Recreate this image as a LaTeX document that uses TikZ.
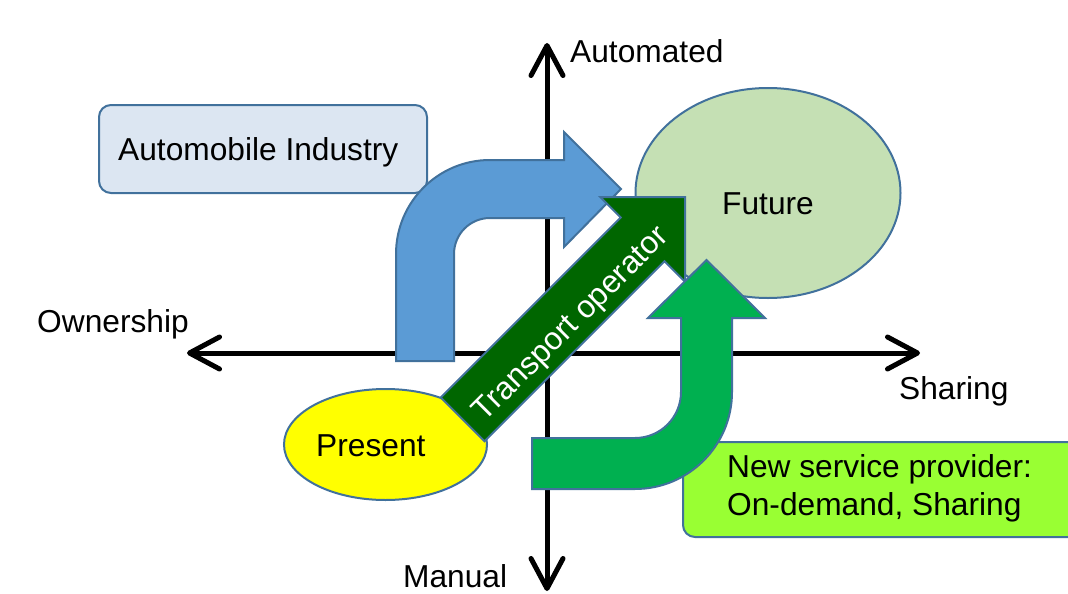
\documentclass[tikz,border=0pt]{standalone}
\usepackage{fontspec}
\setmainfont{Liberation Sans}
\usetikzlibrary{arrows.meta,shapes.geometric}
\definecolor{edge}{HTML}{41719C}
\definecolor{autofill}{HTML}{DCE6F2}
\definecolor{bluearrow}{HTML}{5B9BD5}
\definecolor{futfill}{HTML}{C5E0B4}
\definecolor{presfill}{HTML}{FFFF00}
\definecolor{darkgr}{HTML}{006600}
\definecolor{greenarrow}{HTML}{00B050}
\definecolor{nsfill}{HTML}{99FF33}
\begin{document}
\begin{tikzpicture}[x=1pt,y=-1pt,
  font=\fontsize{31.7}{38}\selectfont,
  axis/.style={line width=5pt,
    {Straight Barb[length=30pt,width=32pt,round]}-{Straight Barb[length=30pt,width=32pt,round]}},
  txt/.style={inner sep=0pt, anchor=base west},
  shapeedge/.style={draw=edge, line width=2pt, line join=miter},
  roundbox/.style={shapeedge, rounded corners=12pt, rectangle, inner sep=0pt},
  oval/.style={shapeedge, ellipse, inner sep=0pt}]
\clip (0,0) rectangle (1068,594);
\useasboundingbox (0,0) rectangle (1068,594);
\fill[white] (0,0) rectangle (1068,594);

% axes
\coordinate (oL) at (187,353);
\coordinate (oR) at (920,353);
\coordinate (aT) at (547,43);
\coordinate (aB) at (547,591);
\draw[axis] (oL) -- (oR);
\draw[axis] (aB) -- (aT);

\node[txt] (own) at (37,332) {Ownership};
\node[txt] (shr) at (899,399) {Sharing};
\node[txt] (aut) at (570,63) {Automated};
\node[txt] (man) at (403,587) {Manual};

% automobile industry box
\node[roundbox, fill=autofill, minimum width=328pt, minimum height=88pt] (autobox) at (263,149) {};
\node[txt] (autotxt) at (118,160) {Automobile Industry};

% blue bent arrow
\draw[shapeedge, fill=bluearrow]
  (396,361) -- (396,254)
  .. controls (396,202.1) and (438.1,160) .. (490,160)
  -- (564,160) -- (564,132) -- (621,189) -- (564,247) -- (564,218)
  -- (490,218)
  .. controls (470.1,218) and (454,234.1) .. (454,254)
  -- (454,361) -- cycle;

% future ellipse
\node[oval, fill=futfill, minimum width=265pt, minimum height=210pt] (future) at (768,193) {};
\node[txt] (futtxt) at (722,214) {Future};

% present ellipse
\node[oval, fill=presfill, minimum width=203pt, minimum height=111pt] (present) at (385.5,444.5) {};
\node[txt] (prestxt) at (316,456) {Present};

% transport operator arrow
\draw[shapeedge, fill=darkgr]
  (440.7,397.5) -- (620.7,217.5) -- (600.2,197) -- (685,197)
  -- (685,281.8) -- (664.5,261.3) -- (484.5,441.3) -- cycle;
\node[inner sep=0pt, rotate=45, text=white] (trtxt) at (572,325) {Transport operator};

% new service provider box
\node[roundbox, fill=nsfill, minimum width=407pt, minimum height=95pt] (nsbox) at (886.5,489.5) {};
\node[txt] (nstxt1) at (727,477) {New service provider:};
\node[txt] (nstxt2) at (727,515) {On-demand, Sharing};

% green bent arrow
\draw[shapeedge, fill=greenarrow]
  (532,438) -- (635,438)
  .. controls (660.4,438) and (681,417.4) .. (681,392)
  -- (681,318) -- (648,318) -- (706.5,260) -- (765,318) -- (732,318)
  -- (732,392)
  .. controls (732,445.6) and (688.6,489) .. (635,489)
  -- (532,489) -- cycle;
\end{tikzpicture}
\end{document}
